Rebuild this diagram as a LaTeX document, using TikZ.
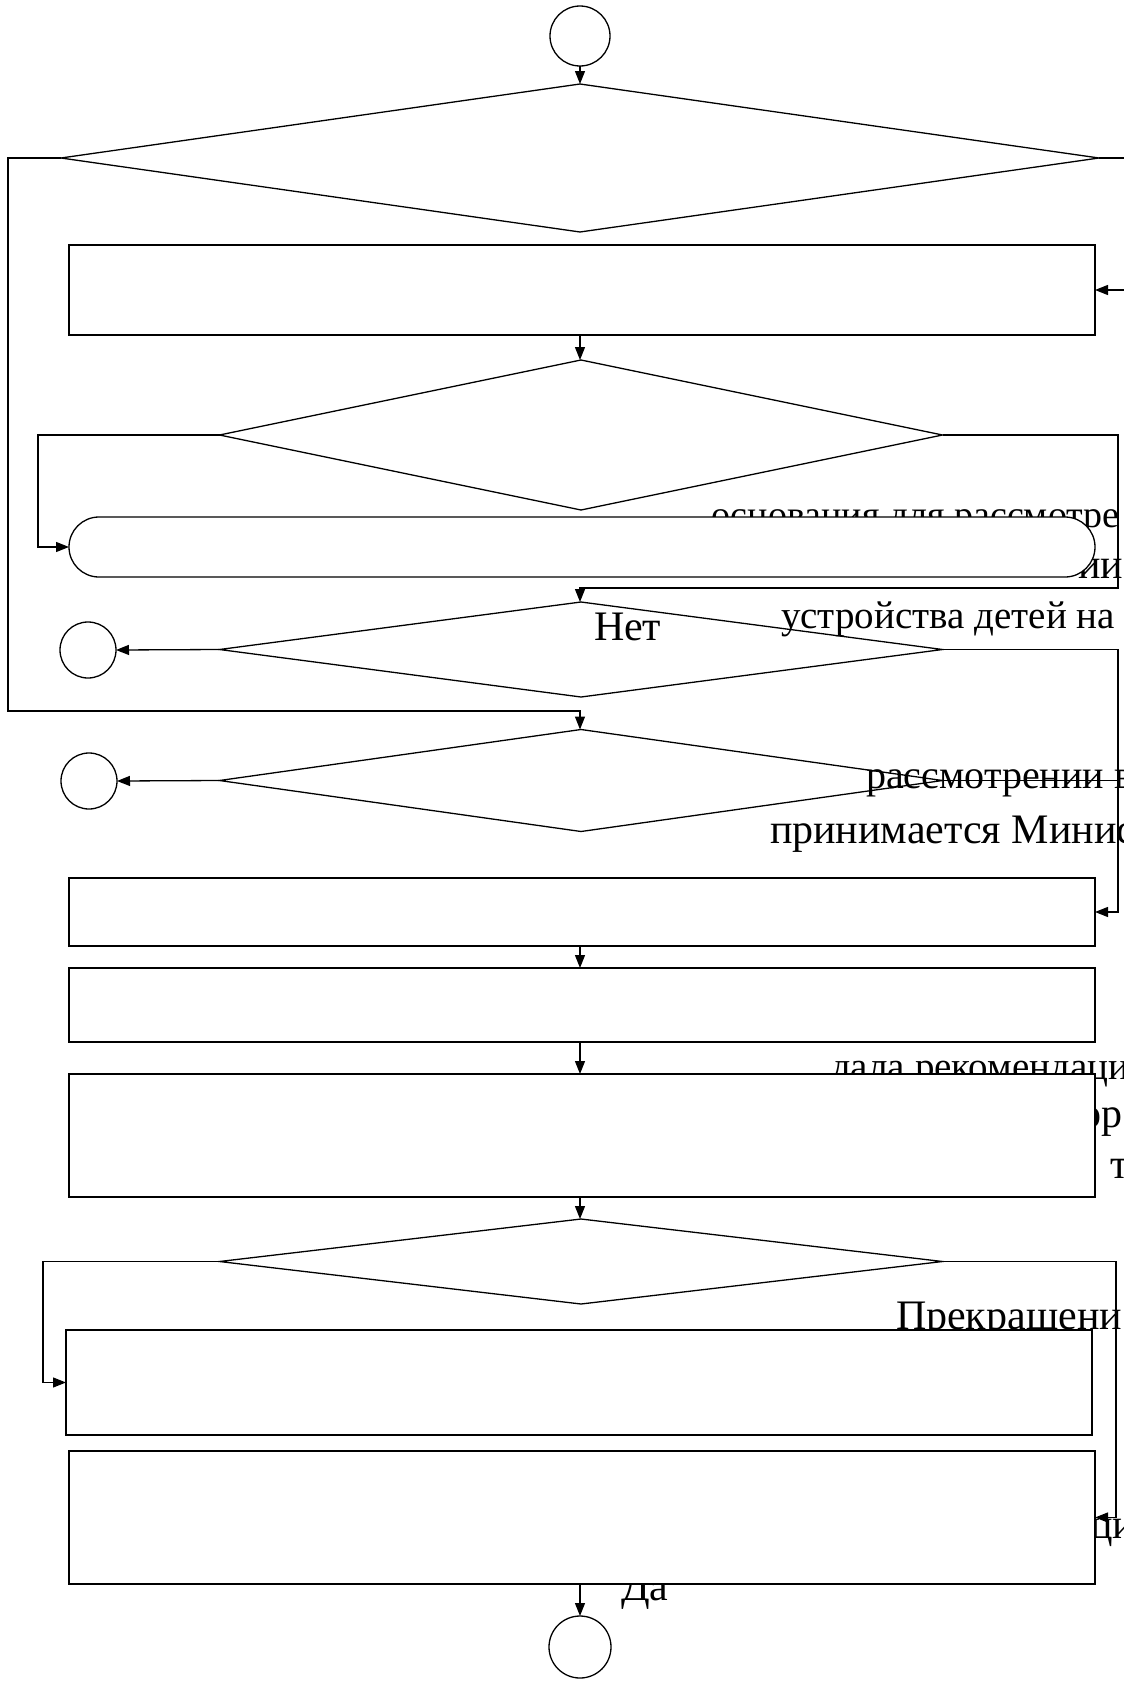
\documentclass[tikz,border=0pt]{standalone}
\usepackage{fontspec}
\setmainfont{Liberation Serif}
\usetikzlibrary{shapes.geometric,arrows.meta}
\begin{document}
\begin{tikzpicture}[x=1pt,y=-1pt,line width=1.3pt,
  box/.style={draw,fill=white,rectangle,minimum width=1026pt,inner sep=0pt,outer sep=0pt},
  dia/.style={draw,fill=white,diamond,inner sep=0pt,outer sep=0pt},
  term/.style={draw,fill=white,circle,inner sep=0pt,outer sep=0pt},
  arr/.style={-{Triangle[length=13pt,width=10pt]}},
  lbl/.style={anchor=base west,inner sep=0pt,outer sep=0pt,font=\fontsize{#1}{48}\selectfont},
  lbl/.default=42]
\useasboundingbox (0,0) rectangle (1124,1681);
\clip (0,0) rectangle (1124,1681);
\fill[white] (0,0) rectangle (1124,1681);

% texts lying behind the shapes
\node[lbl=38] (ta1) at (711,527) {основания для рассмотре};
\node[lbl] (ta2) at (1078,578) {ии п};
\node[lbl=39] (tc1) at (831,1079) {дала рекомендаци};
\node[lbl] (tc2) at (1080,1127) {ор};
\node[lbl] (tc3) at (1110,1178) {т};
\node[lbl] (td) at (896,1329) {Прекращени};
\node[lbl] (te) at (1090,1538) {ци};
\node[lbl] (tf) at (621,1600) {Да};

% shapes
\node[term,minimum size=60pt] (start) at (580,36) {};
\node[dia,minimum width=1038pt,minimum height=148pt] (d1) at (580,158) {};
\node[box,minimum height=90pt] (r1) at (582,290) {};
\node[dia,minimum width=723pt,minimum height=150pt] (d2) at (581,435) {};
\node[box,rounded corners=30pt,minimum height=60pt] (rr) at (582,547) {};
\node[dia,minimum width=723pt,minimum height=95pt] (d3) at (581,649.5) {};
\node[term,minimum size=56pt] (c3) at (88,650) {};
\node[dia,minimum width=723pt,minimum height=102pt] (d4) at (581,780.5) {};
\node[term,minimum size=56pt] (c4) at (89,781) {};
\node[box,minimum height=68pt] (r2) at (582,912) {};
\node[box,minimum height=74pt] (r3) at (582,1005) {};
\node[box,minimum height=123pt] (r4) at (582,1135.5) {};
\node[dia,minimum width=723pt,minimum height=85pt] (d5) at (581,1261.5) {};
\node[box,minimum height=105pt] (r5) at (579,1382.5) {};
\node[box,minimum height=133pt] (r6) at (582,1517.5) {};
\node[term,minimum size=62pt] (end) at (580,1647) {};

% way points
\coordinate (lx1) at (8,711);
\coordinate (rx1) at (1130,0);
\coordinate (lx2) at (38,0);
\coordinate (rx2) at (1118,588);
\coordinate (rx3) at (1118,0);
\coordinate (lx5) at (43,0);
\coordinate (rx5) at (1116,0);

% connectors
\draw[arr] (start.south) -- (d1.north);
\draw[arr] (d1.west) -| (lx1) -- (lx1 -| start) -- (d4.north -| start);
\draw[arr] (d1.east) -| (rx1 |- r1.east) -- (r1.east);
\draw[arr] (r1.south -| start) -- (d2.north -| start);
\draw[arr] (d2.west) -| (lx2 |- rr.west) -- (rr.west);
\draw[arr] (d2.east) -| (rx2) -- (rx2 -| start) -- (d3.north -| start);
\draw[arr] (d3.west) -- (c3.east);
\draw[arr] (d3.east) -| (rx3 |- r2.east) -- (r2.east);
\draw[arr] (d4.west) -- (c4.east);
\draw (d4.east) -- (rx3 |- d4.east);
\draw[arr] (r2.south -| start) -- (r3.north -| start);
\draw[arr] (r3.south -| start) -- (r4.north -| start);
\draw[arr] (r4.south -| start) -- (d5.north -| start);
\draw[arr] (d5.west) -| (lx5 |- r5.west) -- (r5.west);
\draw[arr] (d5.east) -| (rx5 |- r6.east) -- (r6.east);
\draw[arr] (r6.south -| start) -- (end.north);

% texts lying over the shapes
\node[lbl] (tn) at (594,640) {Нет};
\node[lbl=39] (ta3) at (781,628) {устройства детей на п};
\node[lbl=40] (tb1) at (866,788) {рассмотрении в};
\node[lbl] (tb2) at (770,843) {принимается Минис};
\end{tikzpicture}
\end{document}
